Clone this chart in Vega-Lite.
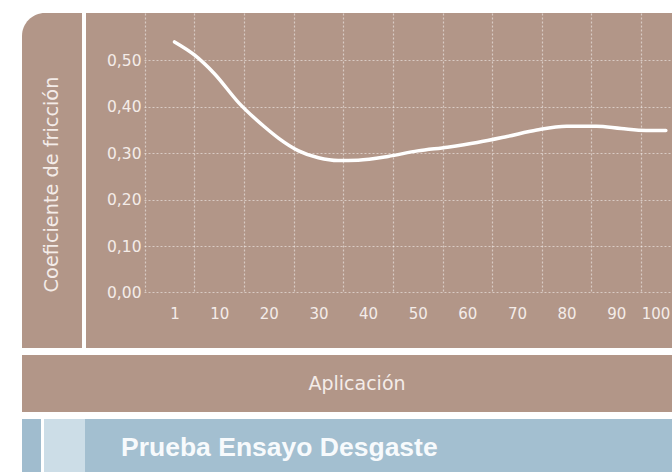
{
  "$schema": "https://vega.github.io/schema/vega-lite/v6.json",
  "background": "#FFFFFF",
  "padding": {"left": 22, "top": 13, "right": 0, "bottom": 0},
  "config": {"view": {"stroke": null}, "font": "DejaVu Sans"},
  "spacing": 7,
  "vconcat": [
    {
      "spacing": 4,
      "hconcat": [
        {
          "width": 60,
          "height": 335,
          "data": {"values": [{"titulo": "Coeficiente de fricción"}]},
          "layer": [
            {"mark": {"type": "rect", "color": "#B29688", "cornerRadiusTopLeft": 23}, "encoding": {}},
            {
              "mark": {"type": "text", "angle": 270, "font": "DejaVu Sans", "fontSize": 19.3, "color": "#F4ECE8", "align": "center", "baseline": "middle", "dx": -4},
              "encoding": {"text": {"field": "titulo"}}
            }
          ]
        },
        {
          "spacing": 0,
          "hconcat": [
            {
              "width": 58,
              "height": 335,
              "view": {"fill": "#B29688", "stroke": null},
              "data": {"values": [{"franja": "etiquetas"}]},
              "mark": {"type": "rect", "color": "#B29688"},
              "encoding": {
                "y": {
                  "datum": 0,
                  "type": "quantitative",
                  "scale": {"domain": [0, 0.6023], "range": [279.7, 0], "nice": false, "zero": false},
                  "axis": {
                    "orient": "left",
                    "values": [0, 0.1, 0.2, 0.3, 0.4, 0.5],
                    "title": null,
                    "domain": false,
                    "ticks": false,
                    "tickSize": 0,
                    "grid": false,
                    "offset": -55,
                    "zindex": 1,
                    "labelPadding": 0,
                    "labelAlign": "right",
                    "labelBaseline": "middle",
                    "labelExpr": "replace(format(datum.value, '.2f'), '.', ',')",
                    "labelFont": "DejaVu Sans",
                    "labelFontSize": 15.5,
                    "labelColor": "#F4ECE8"
                  }
                },
                "y2": {"datum": 0.6023}
              }
            },
            {
              "spacing": 0,
              "vconcat": [
                {
                  "width": 528,
                  "height": 280,
                  "view": {"fill": "#B29688", "stroke": null},
                  "data": {
                    "values": [
                      {"aplicacion": 1, "coeficiente": 0.540},
                      {"aplicacion": 5, "coeficiente": 0.512},
                      {"aplicacion": 9, "coeficiente": 0.472},
                      {"aplicacion": 14, "coeficiente": 0.408},
                      {"aplicacion": 19, "coeficiente": 0.358},
                      {"aplicacion": 22, "coeficiente": 0.332},
                      {"aplicacion": 26, "coeficiente": 0.305},
                      {"aplicacion": 30, "coeficiente": 0.290},
                      {"aplicacion": 34, "coeficiente": 0.284},
                      {"aplicacion": 38, "coeficiente": 0.285},
                      {"aplicacion": 44, "coeficiente": 0.293},
                      {"aplicacion": 50, "coeficiente": 0.305},
                      {"aplicacion": 56, "coeficiente": 0.313},
                      {"aplicacion": 62, "coeficiente": 0.323},
                      {"aplicacion": 68, "coeficiente": 0.336},
                      {"aplicacion": 74, "coeficiente": 0.350},
                      {"aplicacion": 80, "coeficiente": 0.358},
                      {"aplicacion": 86, "coeficiente": 0.358},
                      {"aplicacion": 91, "coeficiente": 0.353},
                      {"aplicacion": 96, "coeficiente": 0.349},
                      {"aplicacion": 100, "coeficiente": 0.349}
                    ]
                  },
                  "mark": {"type": "line", "color": "#FFFFFF", "strokeWidth": 3.5, "interpolate": "monotone", "strokeCap": "round"},
                  "encoding": {
                    "x": {
                      "field": "aplicacion",
                      "type": "quantitative",
                      "scale": {"domain": [-5.15, 101.24], "nice": false, "zero": false},
                      "axis": {
                        "orient": "bottom",
                        "values": [-5, 5, 15, 25, 35, 45, 55, 65, 75, 85, 95],
                        "title": null,
                        "domain": false,
                        "ticks": false,
                        "tickSize": 0,
                        "labels": false,
                        "grid": true,
                        "gridColor": "#FFFFFF",
                        "gridDash": [2, 2],
                        "gridWidth": 1.2,
                        "gridOpacity": 0.5
                      }
                    },
                    "y": {
                      "field": "coeficiente",
                      "type": "quantitative",
                      "scale": {"domain": [-0.0015, 0.6023], "nice": false, "zero": false},
                      "axis": {
                        "orient": "left",
                        "values": [0, 0.1, 0.2, 0.3, 0.4, 0.5],
                        "title": null,
                        "domain": false,
                        "ticks": false,
                        "tickSize": 0,
                        "labels": false,
                        "grid": true,
                        "gridColor": "#FFFFFF",
                        "gridDash": [2, 2],
                        "gridWidth": 1.2,
                        "gridOpacity": 0.5
                      }
                    }
                  }
                },
                {
                  "width": 528,
                  "height": 55,
                  "view": {"fill": "#B29688", "stroke": null},
                  "data": {"values": [{"franja": "eje"}]},
                  "mark": {"type": "rect", "color": "#B29688"},
                  "encoding": {
                    "x": {
                      "datum": -5.15,
                      "type": "quantitative",
                      "scale": {"domain": [-5.15, 101.24], "nice": false, "zero": false},
                      "axis": {
                        "orient": "bottom",
                        "values": [1, 10, 20, 30, 40, 50, 60, 70, 80, 90, 100],
                        "title": null,
                        "domain": false,
                        "ticks": false,
                        "tickSize": 0,
                        "grid": false,
                        "offset": -35,
                        "zindex": 1,
                        "labelPadding": 0,
                        "labelBaseline": "middle",
                        "labelFont": "DejaVu Sans",
                        "labelFontSize": 15,
                        "labelColor": "#F4ECE8",
                        "labelOverlap": false,
                        "labelFlush": 10,
                        "labelFlushOffset": 4
                      }
                    },
                    "x2": {"datum": 101.24}
                  }
                }
              ]
            }
          ]
        }
      ]
    },
    {
      "width": 650,
      "height": 57,
      "view": {"fill": "#B29688", "stroke": null},
      "data": {"values": [{"titulo": "Aplicación"}]},
      "mark": {"type": "text", "font": "DejaVu Sans", "fontSize": 19, "color": "#F4ECE8", "align": "center", "baseline": "middle", "dx": 10},
      "encoding": {"text": {"field": "titulo"}}
    },
    {
      "spacing": 3,
      "hconcat": [
        {
          "width": 19,
          "height": 53,
          "data": {"values": [{"franja": "oscura"}]},
          "mark": {"type": "rect", "color": "#A0BCCE"},
          "encoding": {}
        },
        {
          "spacing": 0,
          "hconcat": [
            {
              "width": 41,
              "height": 53,
              "data": {"values": [{"franja": "clara"}]},
              "mark": {"type": "rect", "color": "#CCDDE7"},
              "encoding": {}
            },
            {
              "width": 587,
              "height": 53,
              "view": {"fill": "#A3BFD0", "stroke": null},
              "data": {"values": [{"titulo": "Prueba Ensayo Desgaste"}]},
              "mark": {"type": "text", "font": "Liberation Sans", "fontWeight": "bold", "fontSize": 26.5, "color": "#F7FAFC", "align": "left", "baseline": "middle", "dx": -257.5, "dy": 2},
              "encoding": {"text": {"field": "titulo"}}
            }
          ]
        }
      ]
    }
  ]
}
